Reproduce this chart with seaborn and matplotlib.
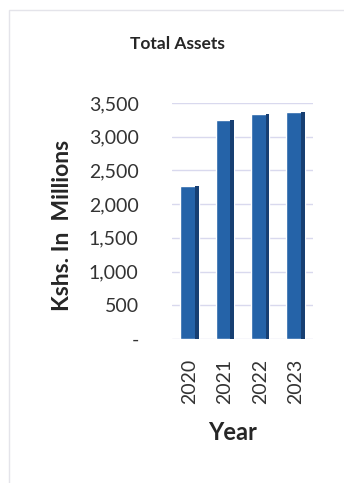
import matplotlib
matplotlib.use("Agg")
import matplotlib.pyplot as plt
from matplotlib.patches import Rectangle
from matplotlib.ticker import FuncFormatter
import seaborn as sns
import pandas as pd

# Total assets per year, Kshs. millions
years = ["2020", "2021", "2022", "2023"]
total_assets = [2270, 3250, 3330, 3370]
y_ticks = [0, 500, 1000, 1500, 2000, 2500, 3000, 3500]

sns.set_theme(style="white")
plt.rcParams["font.family"] = ["Lato", "DejaVu Sans"]

df = pd.DataFrame({"Year": years, "Assets": total_assets})

fig = plt.figure(figsize=(3.44, 4.83), dpi=100)
ax = fig.add_axes([0.50, 0.298, 0.41, 0.489])

sns.barplot(data=df, x="Year", y="Assets", color="#2563a8", width=0.52,
            saturation=1, ax=ax, zorder=3)

# darker right-hand face for a shaded, 3D-like column look
for p in list(ax.patches):
    x, y = p.get_x(), p.get_y()
    w, h = p.get_width(), p.get_height()
    ax.add_patch(Rectangle((x + w * 0.8, y), w * 0.2, h,
                           facecolor="#173f72", edgecolor="none", zorder=4))

ax.set_ylim(0, 3500)
ax.set_yticks(y_ticks)
ax.yaxis.set_major_formatter(
    FuncFormatter(lambda v, _: "-" if v == 0 else f"{v:,.0f}"))
ax.grid(axis="y", color="#d9d9ee", linewidth=1.0, zorder=0)
for s in ax.spines.values():
    s.set_visible(False)

ax.tick_params(axis="y", length=0, pad=24, labelsize=14, labelcolor="#333333")
ax.tick_params(axis="x", length=0, pad=14, labelsize=14, labelcolor="#333333",
               labelrotation=90)

ax.set_ylabel("Kshs. In  Millions", fontsize=16.5, fontweight="bold",
              color="#262626")
ax.yaxis.set_label_coords(-0.70, 0.48)
ax.set_xlabel("Year", fontsize=17, fontweight="bold", color="#262626")
ax.xaxis.set_label_coords(0.43, -0.394)
ax.xaxis.label.set_va("center")

fig.text(0.517, 0.909, "Total Assets", ha="center", va="center",
         fontsize=12.5, fontweight="bold", color="#262626")

# light frame around the chart area
fig.patches.append(Rectangle((9 / 344, -0.01), 1.0, 1 - 10 / 483 + 0.01,
                             transform=fig.transFigure, fill=False,
                             edgecolor="#e4e4ea", linewidth=1.0))

fig.savefig("out.png", dpi=100, facecolor="white")
